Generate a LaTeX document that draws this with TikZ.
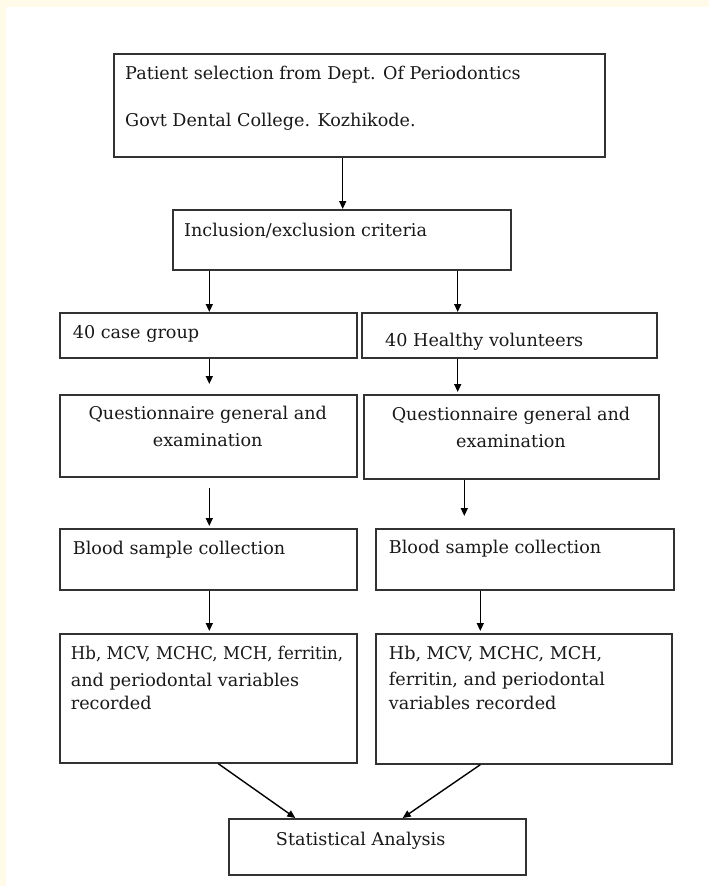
\documentclass[tikz,border=0pt]{standalone}
\usepackage{fontspec}
\usepackage{graphicx}
\setmainfont{DejaVu Serif}
\usetikzlibrary{arrows.meta,calc}
\definecolor{cream}{RGB}{255,251,232}
\definecolor{boxline}{RGB}{50,50,50}
\definecolor{txtc}{RGB}{25,25,25}
\begin{document}
\begin{tikzpicture}[x=1pt,y=-1pt,
  box/.style={draw=boxline, line width=1.7pt, inner sep=0pt, anchor=north west},
  txt/.style={inner sep=0pt, text=txtc, font=\fontsize{17.6}{21}\selectfont},
  arr/.style={draw=black, line width=1.4pt, -{Triangle[length=8pt,width=7pt]}}]
\fill[cream] (0,0) rectangle (709,886);
\fill[white] (6,7) rectangle (709,886);
\useasboundingbox (0,0) rectangle (709,886);
% boxes
\node[box, minimum width=491pt, minimum height=103pt] (b1) at (113,53) {};
\node[box, minimum width=338pt, minimum height=60pt] (b2) at (172,209) {};
\node[box, minimum width=297pt, minimum height=45pt] (b3L) at (59,312) {};
\node[box, minimum width=295pt, minimum height=45pt] (b3R) at (361,312) {};
\node[box, minimum width=297pt, minimum height=82pt] (b4L) at (59,394) {};
\node[box, minimum width=295pt, minimum height=84pt] (b4R) at (363,394) {};
\node[box, minimum width=297pt, minimum height=61pt] (b5L) at (59,528) {};
\node[box, minimum width=298pt, minimum height=61pt] (b5R) at (375,528) {};
\node[box, minimum width=297pt, minimum height=129pt] (b6L) at (59,633) {};
\node[box, minimum width=296pt, minimum height=130pt] (b6R) at (375,633) {};
\node[box, minimum width=297pt, minimum height=56pt] (b7) at (228,818) {};
% texts
\node[txt, anchor=base west] (t1a) at (125,79.3) {Patient selection from Dept. Of Periodontics};
\node[txt, anchor=base west] (t1b) at (125,126.7) {Govt Dental College. Kozhikode.};
\node[txt, anchor=base west] (t2) at (184,236.7) {Inclusion/exclusion criteria};
\node[txt, anchor=base west] (t3L) at (72.7,338.3) {40 case group};
\node[txt, anchor=base west] (t3R) at (385,346) {40 Healthy volunteers};
\node[txt, anchor=base] (t4La) at (207.7,419.3) {Questionnaire general and};
\node[txt, anchor=base] (t4Lb) at (207.7,446) {examination};
\node[txt, anchor=base] (t4Ra) at (511,420.3) {Questionnaire general and};
\node[txt, anchor=base] (t4Rb) at (511,447.7) {examination};
\node[txt, anchor=base west] (t5L) at (72.7,554.3) {Blood sample collection};
\node[txt, anchor=base west] (t5R) at (388.7,553.7) {Blood sample collection};
\node[txt, anchor=base west] (t6La) at (70.7,659.3) {\scalebox{0.945}[1]{Hb, MCV, MCHC, MCH, ferritin,}};
\node[txt, anchor=base west] (t6Lb) at (70.7,686) {and periodontal variables};
\node[txt, anchor=base west] (t6Lc) at (70.7,709.3) {recorded};
\node[txt, anchor=base west] (t6Ra) at (388.7,659.3) {Hb, MCV, MCHC, MCH,};
\node[txt, anchor=base west] (t6Rb) at (388.7,685.5) {ferritin, and periodontal};
\node[txt, anchor=base west] (t6Rc) at (388.7,709.3) {variables recorded};
\node[txt, anchor=base] (t7) at (360.7,845) {Statistical Analysis};
% connector x positions
\coordinate (xa) at (342.7,0);
\coordinate (xL) at (209.3,0);
\coordinate (xR) at (457.7,0);
\coordinate (xR2) at (464.3,0);
\coordinate (xR3) at (480.3,0);
\coordinate (xd1) at (218.3,0);
\coordinate (xd2) at (295.3,0);
\coordinate (xd3) at (402.7,0);
% connectors
\draw[arr] (b1.south -| xa) -- (b2.north -| xa);
\draw[arr] (b2.south -| xL) -- (b3L.north -| xL);
\draw[arr] (b2.south -| xR) -- (b3R.north -| xR);
\draw[arr] (b3L.south -| xL) -- ($(b4L.north -| xL)+(0,-10)$);
\draw[arr] (b3R.south -| xR) -- ($(b4R.north -| xR)+(0,-2)$);
\draw[arr] ($(b4L.south -| xL)+(0,10)$) -- ($(b5L.north -| xL)+(0,-2)$);
\draw[arr] (b4R.south -| xR2) -- ($(b5R.north -| xR2)+(0,-12)$);
\draw[arr] (b5L.south -| xL) -- ($(b6L.north -| xL)+(0,-2)$);
\draw[arr] (b5R.south -| xR3) -- ($(b6R.north -| xR3)+(0,-2)$);
\draw[arr] (b6L.south -| xd1) -- (b7.north -| xd2);
\draw[arr] (b6R.south -| xR3) -- (b7.north -| xd3);
\end{tikzpicture}
\end{document}
